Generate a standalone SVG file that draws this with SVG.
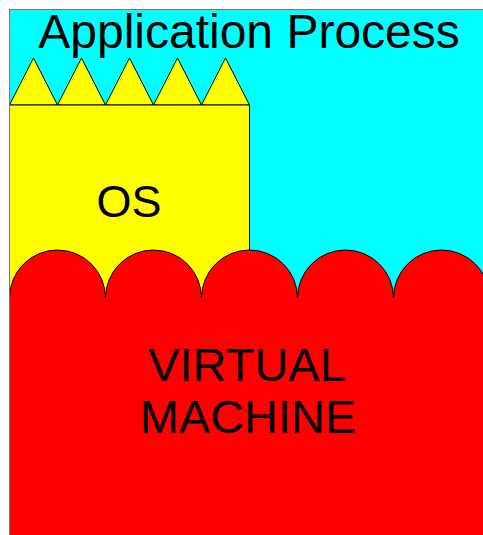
<svg xmlns="http://www.w3.org/2000/svg" width="483" height="535" viewBox="0 0 483 535">
  <style>
    .label { font-family: "Liberation Sans", Arial, sans-serif; fill: #000; text-anchor: middle; }
    .edge { stroke: #000; stroke-width: 1; }
  </style>
  <rect width="483" height="535" fill="#fff"/>

  <!-- application process layer -->
  <g id="app-process">
    <rect x="9.5" y="9.5" width="490" height="540" fill="#00ffff"/>
    <text class="label" x="249" y="48" font-size="48">Application Process</text>
  </g>

  <!-- operating system layer with sawtooth top -->
  <g id="os">
    <path class="edge" fill="#ffff00" d="M9.5,105 L33.5,58 L57.5,105 L81.5,58 L105.5,105 L129.5,58 L153.5,105 L177.5,58 L201.5,105 L225.5,58 L249.5,105 Z"/>
    <rect class="edge" x="9.5" y="105" width="240" height="200" fill="#ffff00"/>
    <text class="label" x="129" y="217" font-size="45">OS</text>
  </g>

  <!-- virtual machine layer with scalloped top -->
  <g id="vm">
    <path fill="#ff0000" d="M9.5,298 A48,48 0 0 1 105.5,298 A48,48 0 0 1 201.5,298 A48,48 0 0 1 297.5,298 A48,48 0 0 1 393.5,298 A48,48 0 0 1 489.5,298 L489.5,545 L9.5,545 Z"/>
    <path class="edge" fill="none" d="M9.5,298 A48,48 0 0 1 105.5,298 A48,48 0 0 1 201.5,298 A48,48 0 0 1 297.5,298 A48,48 0 0 1 393.5,298 A48,48 0 0 1 489.5,298"/>
    <text class="label" x="247" y="381" font-size="47">VIRTUAL</text>
    <text class="label" x="248" y="433" font-size="47">MACHINE</text>
  </g>

  <!-- outer frame -->
  <rect x="9.5" y="9.5" width="490" height="540" fill="none" stroke="#777" stroke-width="1"/>
</svg>
